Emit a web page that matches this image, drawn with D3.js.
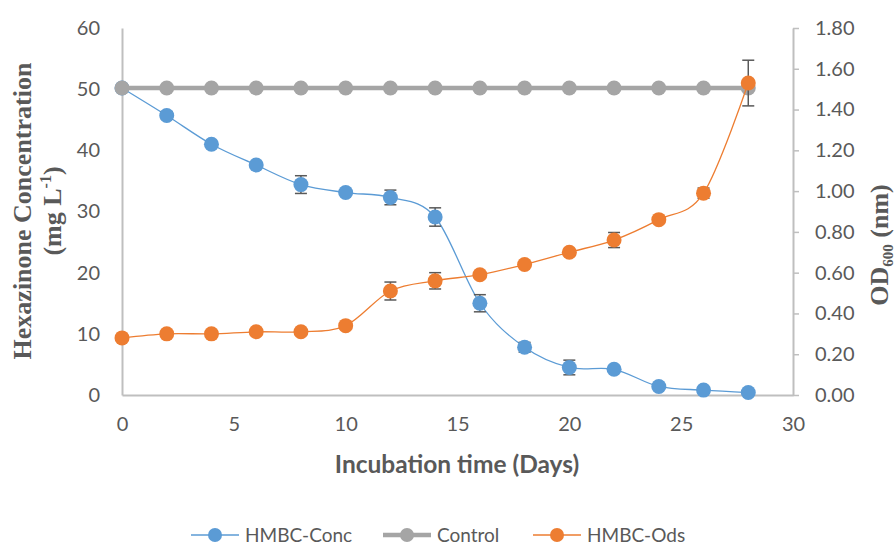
<!DOCTYPE html>
<html>
<head>
<meta charset="utf-8">
<script src="https://cdn.jsdelivr.net/npm/d3@7"></script>
<style>
  body { margin: 0; background: #fff; }
</style>
</head>
<body>
<div id="chart"></div>
<script>
// data
var days = [0, 2, 4, 6, 8, 10, 12, 14, 16, 18, 20, 22, 24, 26, 28];
var concValues = [50.2, 45.7, 41.0, 37.6, 34.4, 33.1, 32.3, 29.1, 15.0, 7.8, 4.5, 4.2, 1.4, 0.8, 0.4];
var concErrors = [0, 0.6, 0.3, 0.3, 1.45, 0.3, 1.2, 1.5, 1.4, 0.8, 1.2, 0.3, 0.2, 0.2, 0.1];
var controlValues = [50.2, 50.2, 50.2, 50.2, 50.2, 50.2, 50.2, 50.2, 50.2, 50.2, 50.2, 50.2, 50.2, 50.2, 50.2];
var odValues = [0.28, 0.30, 0.30, 0.31, 0.31, 0.34, 0.51, 0.56, 0.59, 0.64, 0.70, 0.76, 0.86, 0.99, 1.53];
var odErrors = [0, 0, 0, 0.01, 0.01, 0.01, 0.044, 0.04, 0.01, 0.01, 0.01, 0.037, 0.01, 0.025, 0.112];
var xTicks = [0, 5, 10, 15, 20, 25, 30];
var leftTicks = [0, 10, 20, 30, 40, 50, 60];
var rightTicks = [0, 0.2, 0.4, 0.6, 0.8, 1.0, 1.2, 1.4, 1.6, 1.8];
var seriesNames = ["HMBC-Conc", "Control", "HMBC-Ods"];

var svg = d3.select("#chart")
  .append("svg")
  .attr("width", 896)
  .attr("height", 545)
  .style("font-family", "Lato, sans-serif");

var x = d3.scaleLinear().domain([0, 30]).range([122, 793]);
var yL = d3.scaleLinear().domain([0, 60]).range([395, 28]);
var yR = d3.scaleLinear().domain([0, 1.8]).range([395, 28]);

var axisColor = "#bfbfbf";
var labelColor = "#595959";

// axes
var xAxis = svg.append("g")
  .attr("transform", "translate(0,395)")
  .call(d3.axisBottom(x).tickValues(xTicks).tickSize(0).tickPadding(22));
xAxis.select(".domain").attr("stroke", axisColor).attr("stroke-width", 2);

var leftAxis = svg.append("g")
  .attr("transform", "translate(122,0)")
  .call(d3.axisLeft(yL).tickValues(leftTicks).tickSize(0).tickPadding(22));
leftAxis.select(".domain").attr("stroke", axisColor).attr("stroke-width", 2);

var rightAxis = svg.append("g")
  .attr("transform", "translate(793,0)")
  .call(d3.axisRight(yR).tickValues(rightTicks).tickSize(6).tickSizeOuter(0).tickPadding(16)
    .tickFormat(d3.format(".2f")));
rightAxis.select(".domain").attr("stroke", axisColor).attr("stroke-width", 2);
rightAxis.selectAll(".tick line").attr("stroke", axisColor).attr("stroke-width", 1.5);

svg.selectAll(".tick text")
  .attr("fill", labelColor)
  .attr("font-size", 20)
  .attr("font-family", "Lato, sans-serif");

// axis titles
svg.append("text")
  .attr("x", 457).attr("y", 473)
  .attr("text-anchor", "middle")
  .attr("font-size", 24.5)
  .attr("font-weight", "bold")
  .attr("fill", labelColor)
  .text("Incubation time (Days)");

var leftTitle = svg.append("text")
  .attr("transform", "translate(31,211) rotate(-90)")
  .attr("text-anchor", "middle")
  .style("font-family", "'Liberation Serif', 'Times New Roman', serif")
  .attr("font-size", 26)
  .attr("font-weight", "bold")
  .attr("fill", labelColor);
leftTitle.append("tspan").attr("x", 0).attr("y", 0).text("Hexazinone Concentration");
var l2 = leftTitle.append("tspan").attr("x", 0).attr("y", 30);
l2.append("tspan").text("(mg L");
l2.append("tspan").attr("dy", -10).attr("font-size", 16).text("-1");
l2.append("tspan").attr("dy", 10).text(")");

var rightTitle = svg.append("text")
  .attr("transform", "translate(888,245) rotate(-90)")
  .attr("text-anchor", "middle")
  .style("font-family", "'Liberation Serif', 'Times New Roman', serif")
  .attr("font-size", 26)
  .attr("font-weight", "bold")
  .attr("fill", labelColor);
rightTitle.append("tspan").text("OD");
rightTitle.append("tspan").attr("dy", 5).attr("font-size", 15).text("600");
rightTitle.append("tspan").attr("dy", -5).text(" (nm)");

var blue = "#5b9bd5", gray = "#a5a5a5", orange = "#ed7d31";

function drawSeries(values, errors, yScale, color, width, r) {
  var g = svg.append("g");
  var pts = days.map(function (d, i) { return { d: d, v: values[i], e: errors ? errors[i] : 0 }; });
  g.append("path")
    .datum(pts)
    .attr("fill", "none")
    .attr("stroke", color)
    .attr("stroke-width", width)
    .attr("d", d3.line().x(p => x(p.d)).y(p => yScale(p.v)).curve(d3.curveCardinal.tension(0)));
  if (errors) {
    var eb = g.selectAll(".err").data(pts.filter(p => p.e > 0)).enter().append("g")
      .attr("stroke", "#595959").attr("stroke-width", 1.5);
    eb.append("line")
      .attr("x1", p => x(p.d)).attr("x2", p => x(p.d))
      .attr("y1", p => yScale(p.v - p.e)).attr("y2", p => yScale(p.v + p.e));
    eb.append("line")
      .attr("x1", p => x(p.d) - 6).attr("x2", p => x(p.d) + 6)
      .attr("y1", p => yScale(p.v - p.e)).attr("y2", p => yScale(p.v - p.e));
    eb.append("line")
      .attr("x1", p => x(p.d) - 6).attr("x2", p => x(p.d) + 6)
      .attr("y1", p => yScale(p.v + p.e)).attr("y2", p => yScale(p.v + p.e));
  }
  g.selectAll("circle").data(pts).enter().append("circle")
    .attr("cx", p => x(p.d)).attr("cy", p => yScale(p.v))
    .attr("r", r).attr("fill", color);
}

drawSeries(concValues, concErrors, yL, blue, 1.3, 7.5);
drawSeries(controlValues, null, yL, gray, 4.5, 7.5);
drawSeries(odValues, odErrors, yR, orange, 1.3, 7.5);

// legend
var legendX = [215, 407, 557];
var legendColors = [blue, gray, orange];
var legendWidths = [1.3, 4.5, 1.3];
var lg = svg.append("g").selectAll("g").data(seriesNames).enter().append("g")
  .attr("transform", (d, i) => "translate(" + legendX[i] + ",535)");
lg.append("line").attr("x1", -24).attr("x2", 24).attr("y1", 0).attr("y2", 0)
  .attr("stroke", (d, i) => legendColors[i]).attr("stroke-width", (d, i) => legendWidths[i]);
lg.append("circle").attr("cx", 0).attr("cy", 0).attr("r", 7)
  .attr("fill", (d, i) => legendColors[i]);
lg.append("text").attr("x", 30).attr("y", 7)
  .attr("font-size", 19).attr("fill", labelColor).text(d => d);
</script>
</body>
</html>
